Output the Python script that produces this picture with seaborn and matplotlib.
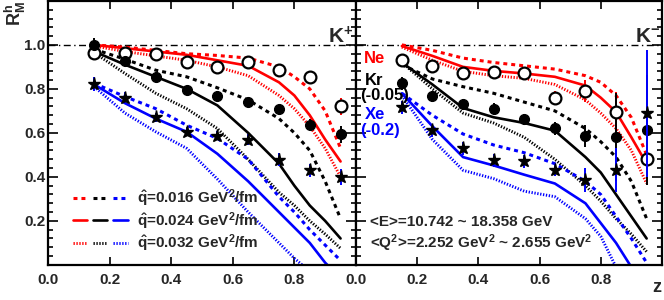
import matplotlib
matplotlib.use("Agg")
import matplotlib.pyplot as plt
import seaborn as sns
from matplotlib.lines import Line2D
from matplotlib.legend_handler import HandlerTuple
from matplotlib.ticker import MultipleLocator

sns.set_theme(style="ticks")
plt.rcParams['font.family'] = ['Liberation Sans', 'DejaVu Sans']
plt.rcParams['font.weight'] = 'bold'
plt.rcParams['mathtext.fontset'] = 'custom'
plt.rcParams['mathtext.rm'] = 'Liberation Sans:bold'
plt.rcParams['mathtext.it'] = 'Liberation Sans:bold'
plt.rcParams['mathtext.bf'] = 'Liberation Sans:bold'
plt.rcParams['mathtext.default'] = 'rm'

# data points (bin centres in z)
z = [0.15, 0.25, 0.35, 0.45, 0.55, 0.65, 0.75, 0.85, 0.95]

# K+ panel
ne_kp = [0.965, 0.961, 0.958, 0.921, 0.898, 0.923, 0.887, 0.855, 0.720]
ne_kp_err = [0.02, 0.02, 0.02, 0.02, 0.025, 0.02, 0.02, 0.025, 0.04]
kr_kp = [1.0, 0.928, 0.855, 0.795, 0.769, 0.739, 0.709, 0.637, 0.593]
kr_kp_err = [0.03, 0.02, 0.02, 0.02, 0.02, 0.02, 0.02, 0.025, 0.04]
xe_kp = [0.822, 0.759, 0.671, 0.606, 0.588, 0.569, 0.478, 0.430, 0.400]
xe_kp_err = [0.03, 0.025, 0.02, 0.02, 0.02, 0.025, 0.03, 0.03, 0.035]

# K- panel (Kr shifted by -0.05, Xe by -0.2)
ne_km = [0.930, 0.902, 0.872, 0.875, 0.870, 0.759, 0.792, 0.697, 0.483]
ne_km_err = [0.02, 0.02, 0.02, 0.02, 0.02, 0.03, 0.05, 0.09, 0.1]
kr_km = [0.825, 0.766, 0.731, 0.709, 0.661, 0.621, 0.588, 0.581, 0.615]
kr_km_err = [0.03, 0.025, 0.025, 0.025, 0.025, 0.03, 0.05, 0.2, 0.25]
xe_km = [0.716, 0.611, 0.530, 0.475, 0.471, 0.433, 0.385, 0.430, 0.689]
xe_km_err = [0.03, 0.03, 0.03, 0.03, 0.03, 0.03, 0.055, 0.1, 0.29]

# model curves
zc = [0.15, 0.25, 0.35, 0.45, 0.55, 0.65, 0.75, 0.80, 0.85, 0.90, 0.95]

ne_kp_016 = [1.0, 0.99, 0.975, 0.96, 0.952, 0.94, 0.90, 0.855, 0.80, 0.70, 0.53]
ne_kp_024 = [1.0, 0.985, 0.97, 0.955, 0.93, 0.905, 0.83, 0.77, 0.68, 0.57, 0.47]
ne_kp_032 = [0.995, 0.97, 0.95, 0.93, 0.90, 0.86, 0.77, 0.71, 0.63, 0.53, 0.40]
kr_kp_016 = [0.98, 0.935, 0.885, 0.855, 0.805, 0.75, 0.665, 0.60, 0.52, 0.38, 0.21]
kr_kp_024 = [0.97, 0.91, 0.855, 0.80, 0.725, 0.60, 0.46, 0.36, 0.27, 0.20, 0.12]
kr_kp_032 = [0.965, 0.87, 0.78, 0.71, 0.62, 0.48, 0.33, 0.27, 0.20, 0.14, 0.075]
xe_kp_016 = [0.825, 0.765, 0.71, 0.635, 0.575, 0.48, 0.31, 0.24, 0.16, 0.09, 0.02]
xe_kp_024 = [0.82, 0.735, 0.665, 0.605, 0.505, 0.38, 0.24, 0.17, 0.10, 0.01, -0.06]
xe_kp_032 = [0.81, 0.69, 0.605, 0.53, 0.39, 0.24, 0.10, 0.03, -0.03, -0.09, -0.15]

ne_km_016 = [1.0, 0.975, 0.94, 0.92, 0.905, 0.89, 0.86, 0.83, 0.77, 0.67, 0.50]
ne_km_024 = [0.995, 0.95, 0.90, 0.882, 0.87, 0.855, 0.815, 0.76, 0.695, 0.58, 0.46]
ne_km_032 = [0.99, 0.93, 0.88, 0.86, 0.848, 0.82, 0.75, 0.69, 0.62, 0.52, 0.37]
kr_km_016 = [0.91, 0.845, 0.81, 0.78, 0.74, 0.70, 0.62, 0.56, 0.49, 0.38, 0.21]
kr_km_024 = [0.92, 0.82, 0.713, 0.671, 0.645, 0.61, 0.49, 0.42, 0.32, 0.22, 0.12]
kr_km_032 = [0.92, 0.80, 0.69, 0.645, 0.58, 0.48, 0.36, 0.29, 0.21, 0.14, 0.06]
xe_km_016 = [0.78, 0.68, 0.595, 0.545, 0.51, 0.46, 0.38, 0.32, 0.22, 0.12, 0.01]
xe_km_024 = [0.78, 0.63, 0.49, 0.452, 0.41, 0.37, 0.28, 0.19, 0.10, -0.01, -0.1]
xe_km_032 = [0.77, 0.57, 0.43, 0.392, 0.335, 0.31, 0.21, 0.13, -0.01, -0.1, -0.2]

qhat_labels = ["0.016", "0.024", "0.032"]

RED, BLUE = "#ff0000", "#0000ff"
styles = [dict(lw=2.2, linestyle=(0, (1.3, 1.3))),
          dict(lw=1.9, linestyle="-"),
          dict(lw=2.1, linestyle=(0, (0.45, 0.55)))]

fig = plt.figure(figsize=(6.64, 3.0), dpi=100)
ax1 = fig.add_axes([0.0723, 0.117, 0.4638, 0.88])
ax2 = fig.add_axes([0.5361, 0.117, 0.4608, 0.88])

panels = [
    (ax1, [ne_kp_016, ne_kp_024, ne_kp_032], [kr_kp_016, kr_kp_024, kr_kp_032],
     [xe_kp_016, xe_kp_024, xe_kp_032],
     (ne_kp, ne_kp_err), (kr_kp, kr_kp_err), (xe_kp, xe_kp_err)),
    (ax2, [ne_km_016, ne_km_024, ne_km_032], [kr_km_016, kr_km_024, kr_km_032],
     [xe_km_016, xe_km_024, xe_km_032],
     (ne_km, ne_km_err), (kr_km, kr_km_err), (xe_km, xe_km_err)),
]

for ax, ne_c, kr_c, xe_c, ne, kr, xe in panels:
    ax.axhline(1.0, color="black", lw=1.0, linestyle=(0, (5, 2.5, 1, 2.5)), zorder=1)
    for curves, col in [(ne_c, RED), (kr_c, "black"), (xe_c, BLUE)]:
        for vals, st in zip(curves, styles):
            sns.lineplot(x=zc, y=vals, ax=ax, color=col, legend=False, zorder=2, **st)
    ax.errorbar(z, ne[0], yerr=ne[1], fmt="o", ms=8.5, mfc="white", mec="black",
                mew=1.6, ecolor=RED, elinewidth=1.4, capsize=0, zorder=4)
    ax.errorbar(z, kr[0], yerr=kr[1], fmt="o", ms=7, mfc="black", mec="black",
                ecolor="black", elinewidth=1.4, capsize=0, zorder=4)
    ax.errorbar(z, xe[0], yerr=xe[1], fmt="*", ms=9.5, mfc="black", mec="black",
                ecolor=BLUE, elinewidth=1.4, capsize=0, zorder=5)

    ax.set_xlim(0, 1.0)
    ax.set_ylim(0, 1.2)
    ax.set_xticks([0.0, 0.2, 0.4, 0.6, 0.8])
    ax.set_yticks([0.2, 0.4, 0.6, 0.8, 1.0])
    ax.yaxis.set_minor_locator(MultipleLocator(0.04))
    ax.tick_params(which="both", direction="in", top=True, right=True, color="black")
    ax.tick_params(axis="y", which="major", length=7, width=1.2, pad=2, labelsize=11)
    ax.tick_params(axis="y", which="minor", length=3.6, width=1.2)
    ax.tick_params(axis="x", which="major", length=6, width=1.2, pad=6, labelsize=11)
    for sp in ax.spines.values():
        sp.set_linewidth(1.6)
        sp.set_color("black")
    ax.set_xlabel("")
    ax.set_ylabel("")

ax2.tick_params(labelleft=False)

ax1.text(0.99, 0.865, "K$^{+}$", transform=ax1.transAxes, ha="right", va="center", fontsize=15)
ax2.text(0.995, 0.865, "K$^{-}$", transform=ax2.transAxes, ha="right", va="center", fontsize=15)

ax2.text(0.025, 0.782, "Ne", color=RED, transform=ax2.transAxes, va="center", fontsize=12)
ax2.text(0.03, 0.70, "Kr", color="black", transform=ax2.transAxes, va="center", fontsize=12)
ax2.text(0.015, 0.64, "(-0.05)", color="black", transform=ax2.transAxes, va="center", fontsize=12)
ax2.text(0.03, 0.568, "Xe", color=BLUE, transform=ax2.transAxes, va="center", fontsize=12)
ax2.text(0.015, 0.51, "(-0.2)", color=BLUE, transform=ax2.transAxes, va="center", fontsize=12)

ax2.text(0.045, 0.163, "<E>=10.742 ~ 18.358 GeV", transform=ax2.transAxes, va="center", fontsize=11)
ax2.text(0.045, 0.083, "<Q$^{2}$>=2.252 GeV$^{2}$ ~ 2.655 GeV$^{2}$", transform=ax2.transAxes,
         va="center", fontsize=11)

fig.text(0.996, 0.04, "z", ha="right", va="center", fontsize=13)
fig.text(0.004, 0.995, r"R$^{\rm h}_{\rm M}$", rotation=90, ha="left", va="top", fontsize=13)

# legend: red / black / blue samples side by side for each qhat
handles = []
for st in styles:
    handles.append(tuple(Line2D([], [], color=c, **st) for c in (RED, "black", BLUE)))
labels = [r"$\hat{\rm q}$=" + q + " GeV$^{2}$/fm" for q in qhat_labels]
ax1.legend(handles, labels, handler_map={tuple: HandlerTuple(ndivide=None, pad=0.4)},
           loc="lower left", bbox_to_anchor=(0.045, 0.0), frameon=False, fontsize=11,
           handlelength=3.6, handletextpad=0.6, labelspacing=0.05, borderpad=0.2)

fig.savefig("out.png", dpi=100)
